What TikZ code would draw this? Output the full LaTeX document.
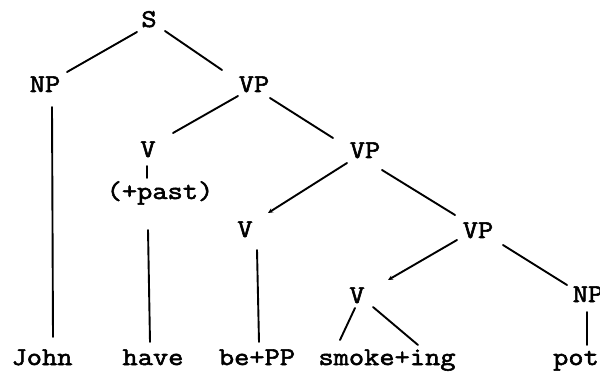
\documentclass[tikz,border=0pt]{standalone}
\usepackage{fontspec}
\setmonofont[FakeStretch=1.16, FakeBold=2.2]{Latin Modern Mono}
\usetikzlibrary{arrows.meta}
\begin{document}
\begin{tikzpicture}[x=1pt, y=-1pt,
  lbl/.style={anchor=base, inner sep=0pt, font=\ttfamily\fontsize{25.5}{30}\selectfont},
  edge/.style={line width=1.9pt, line cap=round},
  tipped/.style={edge, -{Stealth[length=5pt, width=4.5pt]}}]
  \useasboundingbox[fill=white] (0,0) rectangle (600,374);

  % category labels
  \node[lbl] (S)   at (149,27)  {S};
  \node[lbl] (NP)  at (45,92)   {NP};
  \node[lbl] (VP)  at (254,92)  {VP};
  \node[lbl] (V1)  at (148,157) {V};
  \node[lbl] (tns) at (160,199) {(+past)};
  \node[lbl] (VP2) at (365,158) {VP};
  \node[lbl] (V2)  at (245,237) {V};
  \node[lbl] (VP3) at (478,238) {VP};
  \node[lbl] (V3)  at (357,303) {V};
  \node[lbl] (NP2) at (588,302) {NP};

  % terminal words
  \node[lbl] (john)  at (42,365)  {John};
  \node[lbl] (have)  at (153,365) {have};
  \node[lbl] (bepp)  at (257,365) {be+PP};
  \node[lbl] (smoke) at (387,365) {smoke+ing};
  \node[lbl] (pot)   at (576,365) {pot};

  % branches
  \draw[edge] ([shift={(-12,5)}]S.base)   -- ([shift={(22,-20)}]NP.base);
  \draw[edge] ([shift={(16,4)}]S.base)    -- ([shift={(-32,-22)}]VP.base);
  \draw[edge] ([shift={(7,15)}]NP.base)   -- ([shift={(11,-28)}]john.base);
  \draw[edge] ([shift={(-16,4)}]VP.base)  -- ([shift={(25,-24)}]V1.base);
  \draw[edge] ([shift={(16,6)}]VP.base)   -- ([shift={(-32,-20)}]VP2.base);
  \draw[edge] ([shift={(-1,9)}]V1.base)   -- ([shift={(-13,-21)}]tns.base);
  \draw[edge] ([shift={(-12,31)}]tns.base) -- ([shift={(-3,-23)}]have.base);
  \draw[tipped] ([shift={(-18,5)}]VP2.base) -- ([shift={(23,-24)}]V2.base);
  \draw[edge] ([shift={(17,12)}]VP2.base) -- ([shift={(-23,-23)}]VP3.base);
  \draw[edge] ([shift={(12,13)}]V2.base)  -- ([shift={(2,-23)}]bepp.base);
  \draw[tipped] ([shift={(-21,2)}]VP3.base) -- ([shift={(31,-23)}]V3.base);
  \draw[edge] ([shift={(25,7)}]VP3.base)  -- ([shift={(-21,-17)}]NP2.base);
  \draw[edge] ([shift={(-2,5)}]V3.base)   -- ([shift={(-47,-25)}]smoke.base);
  \draw[edge] ([shift={(16,4)}]V3.base)   -- ([shift={(31,-20)}]smoke.base);
  \draw[edge] ([shift={(-1,10)}]NP2.base) -- ([shift={(11,-20)}]pot.base);
\end{tikzpicture}
\end{document}
